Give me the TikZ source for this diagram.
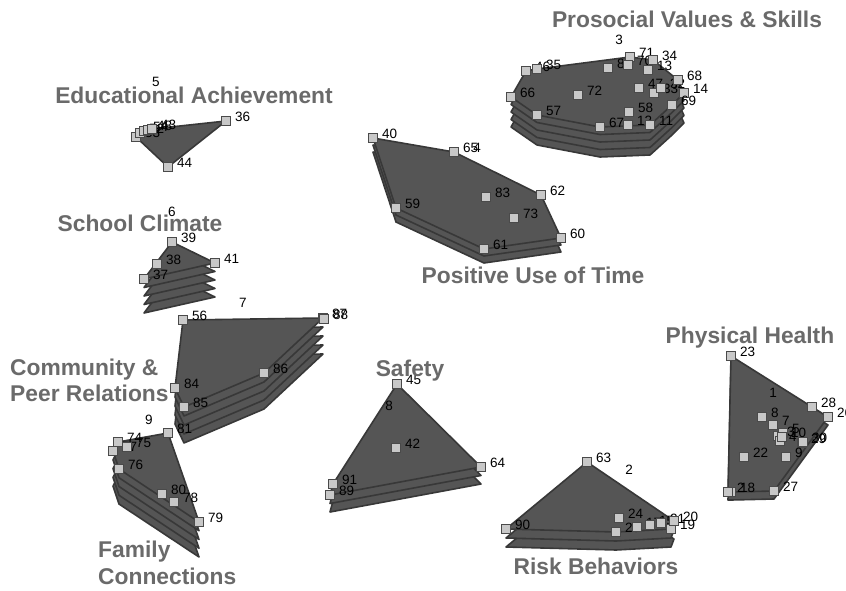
\documentclass[tikz,border=0pt]{standalone}
\usepackage{fontspec}
\setmainfont{Liberation Sans}
\usetikzlibrary{backgrounds}

\definecolor{hullfill}{HTML}{555555}
\definecolor{hulledge}{HTML}{383838}
\definecolor{ptfill}{HTML}{C8C8C8}
\definecolor{ptedge}{HTML}{4A4A4A}
\definecolor{namegray}{HTML}{6A6A6A}

\tikzset{
  hull/.style={fill=hullfill, draw=hulledge, line width=1.6pt, line join=round},
  pt/.style={rectangle, fill=ptfill, draw=ptedge, line width=1.5pt, minimum size=9pt, inner sep=0},
  num/.style={font=\fontsize{13.5}{14}\selectfont, inner sep=0},
  cname/.style={font=\fontsize{22.8}{26}\selectfont\bfseries, text=namegray, inner sep=0, anchor=base},
}

% stacked hull: #1 extra layers, #2 layer offset, #3 first point, #4 other points
\newcommand\clusterstack[4]{%
  \foreach \k in {#1,...,0}
    \draw[hull, transform canvas={yshift=-\k*#2pt}]
      (p#3.center) \foreach \p in {#4} { -- (p\p.center) } -- cycle;}

\begin{document}
\begin{tikzpicture}[x=1pt, y=-1pt]
\useasboundingbox (0,0) rectangle (846,590);

% statements
\foreach \n/\x/\y in {
    53/136/137, 52/140/133, 54/144/131, 48/148/130, 43/152/129, 36/226/121, 44/168/167,
    46/526/71, 35/537/69, 66/511/97, 57/537/115, 72/578/95, 82/608/68, 71/630/57,
    70/628/65, 34/653/60, 13/648/70, 47/639/88, 33/654/93, 32/661/88, 68/678/80,
    14/684/93, 69/672/105, 58/629/112, 67/600/127, 12/628/125, 11/650/125,
    40/373/138, 65/454/152, 62/541/195, 60/561/238, 61/484/249, 59/396/208,
    83/486/197, 73/514/218,
    39/172/242, 38/157/264, 37/144/279, 41/215/263,
    56/183/320, 87/323/318, 88/324/319, 86/264/373, 84/175/388, 85/184/407,
    81/168/433, 74/118/442, 77/113/451, 75/127/447, 76/119/469, 80/162/494,
    78/174/502, 79/199/522,
    45/397/384, 42/396/448, 64/481/467, 91/333/484, 89/330/495,
    63/587/462, 90/506/529, 24/619/518, 25/616/532, 17/637/527, 15/650/525,
    21/661/523, 19/671/529, 20/674/521,
    23/731/356, 28/812/407, 26/828/417, 8/762/417, 7/773/425, 3/778/436,
    5/783/433, 4/780/441, 10/782/437, 29/802/443, 30/803/442, 9/786/457,
    22/744/457, 18/731/492, 2/728/492, 27/774/491}
{
  \node[pt] (p\n) at (\x,\y) {};
  \node[num, anchor=west] (l\n) at ([xshift=9pt, yshift=4pt]p\n.center) {\n};
}

% cluster hulls
\begin{pgfonlayer}{background}
  \clusterstack{0}{0}{53}{52,43,36,44}
  \clusterstack{4}{7.5}{66}{46,35,71,34,68,14,69,11,67,57}
  \clusterstack{2}{7}{40}{65,62,60,61,59}
  \clusterstack{4}{8.5}{39}{41,37}
  \clusterstack{4}{9}{56}{87,86,85,84}
  \clusterstack{4}{8.75}{74}{81,79,76,77}
  \clusterstack{2}{8.5}{45}{64,89,91}
  \clusterstack{2}{9}{63}{20,19,25,90}
  \clusterstack{1}{8}{23}{26,27,18,2}
\end{pgfonlayer}

% cluster numbers
\node[num] (k1) at (773,393) {1};
\node[num] (k2) at (629,470) {2};
\node[num] (k3) at (619,40) {3};
\node[num] (k4) at (477,148) {4};
\node[num] (k5) at (156,82) {5};
\node[num] (k6) at (172,212) {6};
\node[num] (k7) at (243,303) {7};
\node[num] (k8) at (389,406) {8};
\node[num] (k9) at (149,420) {9};

% cluster names
\node[cname] (n1) at (750,343) {Physical Health};
\node[cname] (n2) at (596,574) {Risk Behaviors};
\node[cname] (n3) at (687,27) {Prosocial Values \& Skills};
\node[cname] (n4) at (533,283) {Positive Use of Time};
\node[cname] (n5) at (194,103) {Educational Achievement};
\node[cname] (n6) at (140,231) {School Climate};
\node[cname, anchor=base west] (n7a) at (10,375) {Community \&};
\node[cname, anchor=base west] (n7b) at (10,401) {Peer Relations};
\node[cname] (n8) at (410,376) {Safety};
\node[cname, anchor=base west] (n9a) at (98,557) {Family};
\node[cname, anchor=base west] (n9b) at (98,584) {Connections};
\end{tikzpicture}
\end{document}
